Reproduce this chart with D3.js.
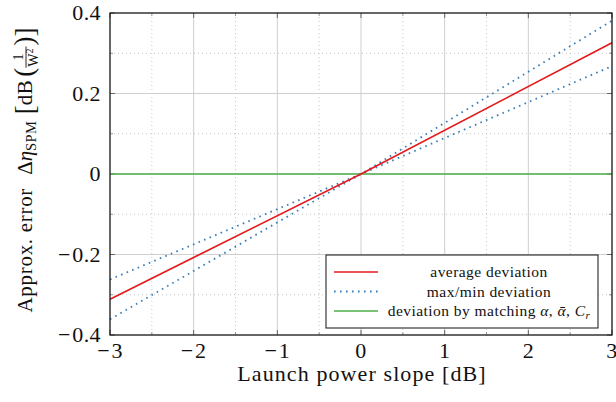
<!DOCTYPE html>
<html>
<head>
<meta charset="utf-8">
<script src="https://cdn.jsdelivr.net/npm/d3@7"></script>
<style>
  body { margin: 0; background: #fff; }
  text { font-family: "Liberation Serif", "DejaVu Serif", serif; fill: #111; }
</style>
</head>
<body>
<div id="chart"></div>
<script>
const slopes = [-3, 0, 3];
const avgDev = [-0.311, 0, 0.326];
const maxDev = [-0.262, 0, 0.381];
const minDev = [-0.361, 0, 0.268];
const matchDev = [0, 0, 0];
const xTicks = [-3, -2, -1, 0, 1, 2, 3];
const yTicks = [-0.4, -0.2, 0, 0.2, 0.4];

const width = 616, height = 402;
const margin = { top: 13, right: 4, bottom: 67, left: 110 };
const w = width - margin.left - margin.right,
    h = height - margin.top - margin.bottom;

const svg = d3.select("#chart")
    .append("svg")
    .attr("width", width)
    .attr("height", height);

const chart = svg.append("g")
    .attr("transform", `translate(${margin.left},${margin.top})`);

const x = d3.scaleLinear().domain([-3, 3]).range([0, w]);
const y = d3.scaleLinear().domain([-0.4, 0.4]).range([h, 0]);

const xMinor = d3.range(-2.5, 3, 1);
const yMinor = d3.range(-0.3, 0.35, 0.2);

// grid
chart.selectAll(".gxm").data(xMinor).enter().append("line")
    .attr("x1", d => x(d)).attr("x2", d => x(d)).attr("y1", 0).attr("y2", h)
    .attr("stroke", "#b8b8b8").attr("stroke-width", 0.8).attr("stroke-dasharray", "1,3");
chart.selectAll(".gym").data(yMinor).enter().append("line")
    .attr("y1", d => y(d)).attr("y2", d => y(d)).attr("x1", 0).attr("x2", w)
    .attr("stroke", "#b8b8b8").attr("stroke-width", 0.8).attr("stroke-dasharray", "1,3");
chart.selectAll(".gx").data(xTicks).enter().append("line")
    .attr("x1", d => x(d)).attr("x2", d => x(d)).attr("y1", 0).attr("y2", h)
    .attr("stroke", "#cfcfcf").attr("stroke-width", 1);
chart.selectAll(".gy").data(yTicks).enter().append("line")
    .attr("y1", d => y(d)).attr("y2", d => y(d)).attr("x1", 0).attr("x2", w)
    .attr("stroke", "#cfcfcf").attr("stroke-width", 1);

// inner ticks on all sides
function ticks(axis, scale, vals, len, col) {
    vals.forEach(v => {
        const p = scale(v);
        if (axis === "x") {
            chart.append("line").attr("x1", p).attr("x2", p).attr("y1", h).attr("y2", h - len).attr("stroke", col);
            chart.append("line").attr("x1", p).attr("x2", p).attr("y1", 0).attr("y2", len).attr("stroke", col);
        } else {
            chart.append("line").attr("y1", p).attr("y2", p).attr("x1", 0).attr("x2", len).attr("stroke", col);
            chart.append("line").attr("y1", p).attr("y2", p).attr("x1", w).attr("x2", w - len).attr("stroke", col);
        }
    });
}
ticks("x", x, xMinor, 3, "#999");
ticks("y", y, yMinor, 3, "#999");
ticks("x", x, xTicks, 5, "#666");
ticks("y", y, yTicks, 5, "#666");

// series
const line = d3.line().x(d => x(d[0])).y(d => y(d[1]));
const series = [
    { vals: matchDev, color: "#4daf4a", dash: null },
    { vals: maxDev, color: "#377eb8", dash: "1.6,4.4" },
    { vals: minDev, color: "#377eb8", dash: "1.6,4.4" },
    { vals: avgDev, color: "#e41a1c", dash: null }
];
series.forEach(s => {
    chart.append("path")
        .datum(slopes.map((v, i) => [v, s.vals[i]]))
        .attr("d", line)
        .attr("fill", "none")
        .attr("stroke", s.color)
        .attr("stroke-width", s.dash ? 1.8 : 1.7)
        .attr("stroke-dasharray", s.dash);
});

// frame
chart.append("rect").attr("width", w).attr("height", h)
    .attr("fill", "none").attr("stroke", "#111").attr("stroke-width", 1.2);

// tick labels (wide minus like TeX)
function tickText(sel, d) {
    const num = d === 0 ? "0" : Math.abs(d).toFixed(Number.isInteger(d) ? 0 : 1);
    if (d < 0) {
        sel.append("tspan").text("\u2212");
        sel.append("tspan").attr("dx", 1.5).text(num);
    } else {
        sel.append("tspan").text(num);
    }
}
chart.selectAll(".xl").data(xTicks).enter().append("text")
    .attr("x", d => x(d)).attr("y", h + 23)
    .attr("text-anchor", "middle").style("font-size", "22px").style("letter-spacing", "0.4px")
    .each(function (d) { tickText(d3.select(this), d); });
chart.selectAll(".yl").data(yTicks).enter().append("text")
    .attr("x", -9).attr("y", d => y(d) + 7)
    .attr("text-anchor", "end").style("font-size", "22px").style("letter-spacing", "0.4px")
    .each(function (d) { tickText(d3.select(this), d); });

// x axis title
svg.append("text")
    .attr("x", margin.left + w / 2 + 1).attr("y", 381)
    .attr("text-anchor", "middle").style("font-size", "22px").style("letter-spacing", "1.1px")
    .text("Launch power slope [dB]");

// y axis title, pieces laid out one after the other
const yt = svg.append("g").attr("transform", "translate(32,170) rotate(-90)");
const parts = [
    { t: "Approx. error", s: 21, ls: 0.7 },
    { t: " ", s: 16 },
    { t: "\u0394", s: 21 },
    { t: "\u03b7", s: 21, it: true },
    { t: "SPM", s: 14.5, dy: 4, ls: 0.4 },
    { t: " ", s: 21 },
    { t: "[", s: 27, dy: 2 },
    { t: "dB", s: 21, ls: 0.5 },
    { t: " ", s: 8 },
    { t: "(", s: 27, dy: 1 },
    { frac: true },
    { t: ")", s: 27, dy: 1 },
    { t: "]", s: 27, dy: 2 }
];
let cx = 0;
const placed = [];
parts.forEach(p => {
    if (p.frac) {
        const g = yt.append("g").attr("transform", `translate(${cx},0)`);
        const den = g.append("text").attr("x", 1).attr("y", 6).style("font-size", "14px");
        den.append("tspan").text("W");
        den.append("tspan").attr("dy", -5).style("font-size", "10px").text("2");
        const fw = den.node().getComputedTextLength() + 3;
        g.append("text").attr("x", fw / 2).attr("y", -9).attr("text-anchor", "middle").style("font-size", "14px").text("1");
        g.append("line").attr("x1", 0).attr("x2", fw).attr("y1", -6).attr("y2", -6).attr("stroke", "#111").attr("stroke-width", 0.9);
        placed.push(g);
        cx += fw + 1;
        return;
    }
    const t = yt.append("text").attr("x", cx).attr("y", p.dy || 0)
        .style("font-size", p.s + "px")
        .style("font-style", p.it ? "italic" : "normal")
        .style("letter-spacing", (p.ls || 0) + "px")
        .style("white-space", "pre")
        .text(p.t);
    placed.push(t);
    cx += t.node().getComputedTextLength() + (p.ls || 0) * p.t.length;
});
placed.forEach(n => {
    const old = n.attr("transform");
    if (old) n.attr("transform", old.replace(/translate\(([-\d.]+)/, (m, a) => `translate(${+a - cx / 2}`));
    else n.attr("x", +n.attr("x") - cx / 2);
});

// legend
const legend = svg.append("g").attr("transform", "translate(326,255)");
legend.append("rect").attr("width", 272).attr("height", 73)
    .attr("fill", "#fff").attr("stroke", "#111").attr("stroke-width", 1);
const legendItems = [
    { label: [["average deviation"]], color: "#e41a1c", dash: null },
    { label: [["max/min deviation"]], color: "#377eb8", dash: "1.6,4.4" },
    { label: [["deviation by matching "], ["\u03b1", "i"], [", "], ["\u1fb1", "i"], [", "], ["C", "i"], ["r", "sub"]], color: "#4daf4a", dash: null }
];
legendItems.forEach((d, i) => {
    const yy = 17 + i * 19.5;
    legend.append("line").attr("x1", 8).attr("x2", 52).attr("y1", yy).attr("y2", yy)
        .attr("stroke", d.color).attr("stroke-width", d.dash ? 1.8 : 1.7)
        .attr("stroke-dasharray", d.dash);
    const t = legend.append("text").attr("x", 163).attr("y", yy + 5)
        .attr("text-anchor", "middle").style("font-size", "15.5px").style("letter-spacing", "0.45px");
    d.label.forEach(([s, k]) => {
        const ts = t.append("tspan").text(s).style("white-space", "pre");
        if (k === "i" || k === "sub") ts.style("font-style", "italic");
        if (k === "sub") ts.attr("dy", 3).style("font-size", "11px");
    });
});
</script>
</body>
</html>
